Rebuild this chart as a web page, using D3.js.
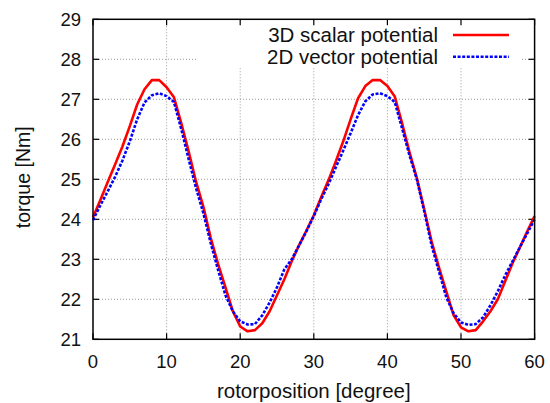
<!DOCTYPE html>
<html>
  <head>
    <meta charset="utf-8">
    <style>
      body { margin: 0; background: #fff; }
      svg { display: block; font-family: "Liberation Sans", Arial, sans-serif; }
      .grid line { stroke: #999; stroke-width: 1px; stroke-dasharray: 1,2; }
      .frame { fill: none; stroke: #000; stroke-width: 1.5px; }
      .tick-label { font-size: 18.5px; fill: #111; }
      .title { font-size: 20.5px; fill: #111; }
    </style>
  </head>
  <body>
    <svg></svg>
    <script src="https://cdnjs.cloudflare.com/ajax/libs/d3/7.8.5/d3.min.js"></script>
    <script>
      // rotor position in degrees, 1 degree steps
      var positions = d3.range(0, 61);

      var scalar3d = [
        24.05, 24.48, 24.93, 25.37, 25.82, 26.33, 26.87, 27.25, 27.48, 27.48,
        27.30, 27.05, 26.40, 25.69, 24.94, 24.31, 23.53, 22.88, 22.30, 21.70,
        21.32, 21.20, 21.23, 21.40, 21.70, 22.10, 22.50, 22.95, 23.35, 23.72,
        24.10, 24.55, 24.98, 25.45, 25.95, 26.50, 27.02, 27.33, 27.48, 27.48,
        27.33, 27.07, 26.40, 25.68, 25.03, 24.25, 23.45, 22.80, 22.20, 21.60,
        21.30, 21.20, 21.23, 21.45, 21.70, 22.00, 22.45, 22.90, 23.30, 23.70,
        24.08
      ];

      var vector2d = [
        23.98, 24.35, 24.70, 25.06, 25.47, 25.95, 26.50, 26.92, 27.10, 27.15,
        27.08, 26.93, 26.25, 25.50, 24.78, 24.15, 23.40, 22.73, 22.10, 21.70,
        21.45, 21.37, 21.38, 21.60, 21.92, 22.30, 22.75, 23.00, 23.35, 23.70,
        24.08, 24.50, 24.88, 25.30, 25.72, 26.15, 26.60, 26.95, 27.12, 27.15,
        27.08, 26.93, 26.27, 25.60, 25.00, 24.20, 23.35, 22.70, 22.05, 21.65,
        21.42, 21.36, 21.38, 21.55, 21.85, 22.20, 22.60, 22.95, 23.30, 23.65,
        24.00
      ];

      var xTicks = [0, 10, 20, 30, 40, 50, 60];
      var yTicks = [21, 22, 23, 24, 25, 26, 27, 28, 29];

      var series = [
        { name: "3D scalar potential", values: scalar3d, color: "#ff0000", dash: null },
        { name: "2D vector potential", values: vector2d, color: "#0000ff", dash: "3,1.6" }
      ];

      var width = 550, height = 403;
      var plotL = 93, plotR = 534.6, plotT = 19.3, plotB = 339.3;

      var svg = d3.select("svg").attr("width", width).attr("height", height);

      var x = d3.scaleLinear().domain([0, 60]).range([plotL, plotR]);
      var y = d3.scaleLinear().domain([21, 29]).range([plotB, plotT]);

      // grid
      var grid = svg.append("g").attr("class", "grid");
      grid.selectAll(".gx").data(xTicks.slice(1, -1)).enter().append("line")
        .attr("x1", d => x(d)).attr("x2", d => x(d))
        .attr("y1", plotB).attr("y2", plotT);
      grid.selectAll(".gy").data(yTicks.slice(1, -1)).enter().append("line")
        .attr("x1", plotL).attr("x2", plotR)
        .attr("y1", d => y(d)).attr("y2", d => y(d));

      // legend background hides the grid behind the key
      svg.append("rect")
        .attr("x", 197).attr("y", plotT + 1)
        .attr("width", 325).attr("height", 47)
        .attr("fill", "#fff");

      // ticks, inward and mirrored
      var tl = 6;
      var ticks = svg.append("g").attr("stroke", "#000").attr("stroke-width", 1.2);
      xTicks.forEach(function(d) {
        ticks.append("line").attr("x1", x(d)).attr("x2", x(d)).attr("y1", plotB).attr("y2", plotB - tl);
        ticks.append("line").attr("x1", x(d)).attr("x2", x(d)).attr("y1", plotT).attr("y2", plotT + tl);
      });
      yTicks.forEach(function(d) {
        ticks.append("line").attr("x1", plotL).attr("x2", plotL + tl).attr("y1", y(d)).attr("y2", y(d));
        ticks.append("line").attr("x1", plotR).attr("x2", plotR - tl).attr("y1", y(d)).attr("y2", y(d));
      });

      // tick labels
      svg.append("g").selectAll("text").data(xTicks).enter().append("text")
        .attr("class", "tick-label")
        .attr("x", d => x(d)).attr("y", 368)
        .attr("text-anchor", "middle")
        .text(d => d);
      svg.append("g").selectAll("text").data(yTicks).enter().append("text")
        .attr("class", "tick-label")
        .attr("x", 81).attr("y", d => y(d) + 6.6)
        .attr("text-anchor", "end")
        .text(d => d);

      // curves
      var line = d3.line()
        .x((d, i) => x(positions[i]))
        .y(d => y(d));

      series.forEach(function(s) {
        svg.append("path")
          .datum(s.values)
          .attr("d", line)
          .attr("fill", "none")
          .attr("stroke", s.color)
          .attr("stroke-width", 2.6)
          .attr("stroke-linejoin", "round")
          .attr("stroke-dasharray", s.dash);
      });

      // frame
      svg.append("rect").attr("class", "frame")
        .attr("x", plotL).attr("y", plotT)
        .attr("width", plotR - plotL).attr("height", plotB - plotT);

      // legend
      series.forEach(function(s, i) {
        var ly = 35 + i * 21.7;
        svg.append("text")
          .attr("class", "title")
          .attr("x", 438).attr("y", ly + 7)
          .attr("text-anchor", "end")
          .text(s.name);
        svg.append("line")
          .attr("x1", 453).attr("x2", 509)
          .attr("y1", ly).attr("y2", ly)
          .attr("stroke", s.color)
          .attr("stroke-width", 2.6)
          .attr("stroke-dasharray", s.dash);
      });

      // axis titles
      svg.append("text")
        .attr("class", "title")
        .attr("x", (plotL + plotR) / 2).attr("y", 398)
        .attr("text-anchor", "middle")
        .text("rotorposition [degree]");
      svg.append("text")
        .attr("class", "title")
        .style("font-size", "19.5px")
        .attr("transform", "translate(30," + ((plotT + plotB) / 2 - 2) + ")rotate(-90)")
        .attr("text-anchor", "middle")
        .text("torque [Nm]");
    </script>
  </body>
</html>
